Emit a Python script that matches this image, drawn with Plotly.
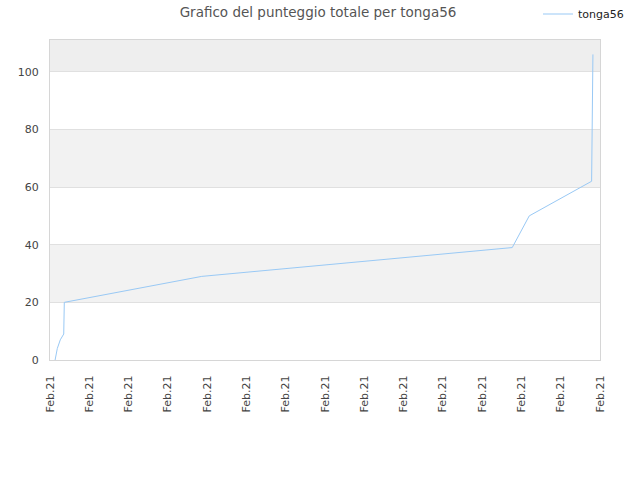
import plotly.graph_objects as go

# score history for tonga56 (all within Feb 2021)
dates = [
    "2021-02-01 03:07", "2021-02-01 04:28", "2021-02-01 06:17",
    "2021-02-01 08:23", "2021-02-01 08:44", "2021-02-04 20:40",
    "2021-02-12 18:23", "2021-02-13 04:47", "2021-02-14 18:53",
    "2021-02-14 19:05", "2021-02-14 19:41",
]
scores = [0, 4, 7, 9, 20, 29, 39, 50, 62, 83, 106]
player = "tonga56"
title = "Grafico del punteggio totale per tonga56"

band_ranges = [(20, 40), (60, 80), (100, 111)]
band_colors = ["#f2f2f2", "#f2f2f2", "#eeeeee"]

fig = go.Figure()
fig.add_trace(go.Scatter(
    x=dates, y=scores, mode="lines", name=player,
    line=dict(color="#99c9f5", width=1),
))

for (lo, hi), col in zip(band_ranges, band_colors):
    fig.add_shape(type="rect", xref="paper", x0=0, x1=1, yref="y", y0=lo, y1=hi,
                  fillcolor=col, line_width=0, layer="below")

fig.update_layout(
    width=640, height=480,
    margin=dict(l=50, r=40, t=40, b=120, autoexpand=False),
    paper_bgcolor="white", plot_bgcolor="white",
    font=dict(family="DejaVu Sans", size=11, color="#444"),
    title=dict(text=title, x=318 / 640, xref="container", xanchor="center",
               y=1 - 12 / 480, yref="container", yanchor="middle",
               font=dict(size=13.5, color="#555")),
    showlegend=True,
    legend=dict(x=538 / 640, xref="container", xanchor="left",
                y=1 - 14 / 480, yref="container", yanchor="middle",
                itemwidth=30,
                font=dict(size=11, color="#222"), bgcolor="rgba(0,0,0,0)"),
    xaxis=dict(
        type="date", range=["2021-02-01", "2021-02-15"],
        dtick=86400000, tick0="2021-02-01", tickformat="%b.%y",
        tickangle=-90, ticks="outside", ticklen=10, tickcolor="rgba(0,0,0,0)",
        showgrid=False, showline=True, linecolor="#d6d6d6", mirror=True,
        tickfont=dict(size=11, color="#444"),
    ),
    yaxis=dict(
        range=[0, 111], dtick=20, tick0=0,
        ticks="outside", ticklen=8, tickcolor="rgba(0,0,0,0)",
        showgrid=True, gridcolor="#e0e0e0", zeroline=False,
        showline=True, linecolor="#d6d6d6", mirror=True,
        tickfont=dict(size=11, color="#444"),
    ),
)

# drop the default 8px page margin so the chart sits at the window corner
fig.write_html("out.html", config={"displayModeBar": False},
               post_script="document.body.style.margin = '0';")
